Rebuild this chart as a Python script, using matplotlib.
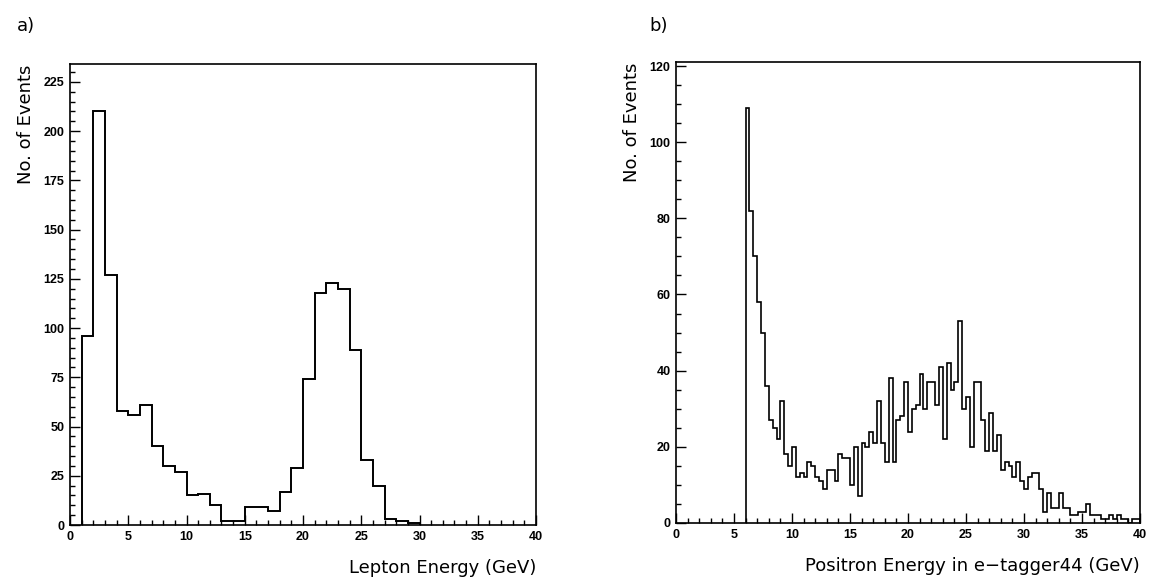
import matplotlib
matplotlib.use("Agg")
import matplotlib.pyplot as plt
import numpy as np
from matplotlib.ticker import MultipleLocator

# panel a) lepton energy, 1 GeV bins starting at 1 GeV
lepton_edges = np.arange(1, 31)
lepton_counts = [96, 210, 127, 58, 56, 61, 40, 30, 27, 15,
                 16, 10, 2, 2, 9, 9, 7, 17, 29, 74,
                 118, 123, 120, 89, 33, 20, 3, 2, 1]

# panel b) positron energy in e-tagger44, 1/3 GeV bins from 6 to 40 GeV
positron_edges = np.linspace(6, 40, 103)
positron_counts = [109, 82, 70, 58, 50, 36, 27, 25, 22, 32,
                   18, 15, 20, 12, 13, 12, 16, 15, 12, 11,
                   9, 14, 14, 11, 18, 17, 17, 10, 20, 7,
                   21, 20, 24, 21, 32, 21, 16, 38, 16, 27,
                   28, 37, 24, 30, 31, 39, 30, 37, 37, 31,
                   41, 22, 42, 35, 37, 53, 30, 33, 20, 37,
                   37, 27, 19, 29, 19, 23, 14, 16, 15, 12,
                   16, 11, 9, 12, 13, 13, 9, 3, 8, 4,
                   4, 8, 4, 4, 2, 2, 3, 3, 5, 2,
                   2, 2, 1, 1, 2, 1, 2, 1, 1, 0,
                   1, 1]

fig = plt.figure(figsize=(11.55, 5.84), dpi=100)
ax1 = fig.add_axes([0.0606, 0.101, 0.4035, 0.789])
ax2 = fig.add_axes([0.5853, 0.1045, 0.4017, 0.789])

label_font = {"family": "DejaVu Sans", "size": 13}
tick_font = {"family": "Liberation Sans", "size": 9, "weight": "bold"}


def style(ax, ymax, ymajor, xlabel):
    ax.set_xlim(0, 40)
    ax.set_ylim(0, ymax)
    ax.xaxis.set_major_locator(MultipleLocator(5))
    ax.xaxis.set_minor_locator(MultipleLocator(1))
    ax.yaxis.set_major_locator(MultipleLocator(ymajor))
    ax.yaxis.set_minor_locator(MultipleLocator(5))
    ax.tick_params(which="both", direction="in", top=False, right=False,
                   width=1.0, color="black")
    ax.tick_params(which="major", length=7, pad=4)
    ax.tick_params(which="minor", length=3.5)
    for lab in ax.get_xticklabels() + ax.get_yticklabels():
        lab.set_fontfamily(tick_font["family"])
        lab.set_fontsize(tick_font["size"])
        lab.set_fontweight(tick_font["weight"])
    for sp in ax.spines.values():
        sp.set_linewidth(1.2)
    ax.set_xlabel(xlabel, fontdict=label_font, loc="right", labelpad=12)
    ax.set_ylabel("No. of Events", fontdict=label_font, loc="top", labelpad=6)


ax1.stairs(lepton_counts, lepton_edges, color="black", linewidth=1.4)
style(ax1, 234, 25, "Lepton Energy (GeV)")

ax2.stairs(positron_counts, positron_edges, color="black", linewidth=1.2)
style(ax2, 121, 20, "Positron Energy in e\u2212tagger44 (GeV)")

fig.text(0.015, 0.955, "a)", fontdict=label_font, va="center")
fig.text(0.562, 0.955, "b)", fontdict=label_font, va="center")

fig.savefig("out.png", dpi=100)
